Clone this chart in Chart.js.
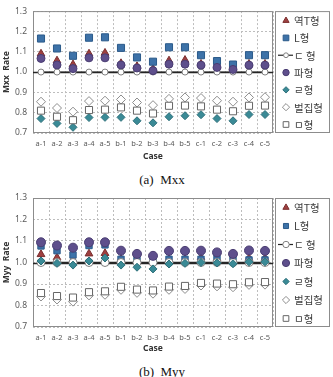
<!DOCTYPE html>
<html><head><meta charset="utf-8">
<script src="https://cdn.jsdelivr.net/npm/chart.js@4"></script>
<style>
html,body{margin:0;padding:0;background:#fff;width:333px;height:377px;overflow:hidden}
#wa{position:absolute;left:0;top:0;width:333px;height:165px}
#wb{position:absolute;left:0;top:185px;width:333px;height:172px}
.cap{position:absolute;left:0;width:324px;text-align:center;font-family:'Liberation Serif',serif;font-size:13px;line-height:15px;color:#111;white-space:pre}
</style></head><body>
<div id="wa"><canvas id="ca" width="333" height="165"></canvas></div>
<div class="cap" style="top:172px">(a)  Mxx</div>
<div id="wb"><canvas id="cb" width="333" height="172"></canvas></div>
<div class="cap" style="top:364px">(b)  Myy</div>
<script>
const cases = ['a-1','a-2','a-3','a-4','a-5','b-1','b-2','b-3','b-4','b-5','c-1','c-2','c-3','c-4','c-5'];
const seriesNames = ['역T형','L형','ㄷ 형','파형','ㄹ형','벌집형','ㅁ형'];
const yTicks = [0.7,0.8,0.9,1.0,1.1,1.2,1.3];
const refValue = 1.0;

// (a) Mxx
const mxxYeokT = [1.090,1.056,1.037,1.090,1.094,1.043,1.028,1.015,1.056,1.059,1.040,1.030,1.020,1.040,1.040];
const mxxL     = [1.165,1.116,1.080,1.169,1.171,1.119,1.072,1.051,1.122,1.122,1.083,1.054,1.037,1.083,1.083];
const mxxD     = [1.0,1.0,1.0,1.0,1.0,1.0,1.0,1.0,1.0,1.0,1.0,1.0,1.0,1.0,1.0];
const mxxPa    = [1.067,1.035,1.017,1.070,1.070,1.035,1.020,1.007,1.039,1.039,1.034,1.023,1.013,1.034,1.034];
const mxxR     = [0.771,0.747,0.728,0.776,0.777,0.777,0.760,0.750,0.780,0.785,0.790,0.771,0.760,0.791,0.791];
const mxxBeol  = [0.854,0.823,0.805,0.857,0.859,0.865,0.850,0.837,0.868,0.875,0.872,0.859,0.854,0.875,0.876];
const mxxM     = [0.810,0.780,0.763,0.813,0.815,0.826,0.810,0.796,0.834,0.835,0.831,0.815,0.807,0.834,0.835];

// (b) Myy
const myyYeokT = [1.038,1.023,1.012,1.041,1.043,1.017,1.005,1.002,1.016,1.016,1.022,1.018,1.012,1.020,1.020];
const myyL     = [1.077,1.055,1.035,1.079,1.082,1.015,1.010,1.006,1.015,1.015,1.015,1.028,1.022,1.012,1.012];
const myyD     = [1.0,1.0,1.0,1.0,1.0,1.0,1.0,1.0,1.0,1.0,1.0,1.0,1.0,1.0,1.0];
const myyPa    = [1.094,1.079,1.069,1.094,1.094,1.055,1.040,1.031,1.054,1.054,1.055,1.047,1.040,1.056,1.054];
const myyR     = [1.007,0.996,0.988,1.007,1.021,0.988,0.978,0.970,0.993,0.996,1.000,0.998,0.994,1.003,1.003];
const myyBeol  = [0.842,0.828,0.818,0.847,0.850,0.873,0.859,0.855,0.873,0.877,0.893,0.889,0.885,0.896,0.897];
const myyM     = [0.858,0.844,0.837,0.862,0.866,0.887,0.874,0.870,0.888,0.891,0.905,0.902,0.899,0.908,0.909];

const styles = [
  {pointStyle:'triangle', bg:'#9E3F3F', bc:'#7A2E2E'},
  {pointStyle:'rect',     bg:'#3D72A8', bc:'#2B5A8A'},
  {pointStyle:'circle',   bg:'#ffffff', bc:'#808080', line:true},
  {pointStyle:'circle',   bg:'#5E4F8C', bc:'#4A3D72'},
  {pointStyle:'rectRot',  bg:'#3A8A96', bc:'#2E707A'},
  {pointStyle:'rectRot',  bg:'#ffffff', bc:'#8c8c8c'},
  {pointStyle:'rect',     bg:'#ffffff', bc:'#666666'}
];

const framePlugin = {
  id:'frame',
  beforeDatasetsDraw(chart){
    const {ctx, chartArea:a, scales:{y}} = chart;
    ctx.save();
    ctx.strokeStyle = '#8c8c8c'; ctx.lineWidth = 1; ctx.setLineDash([]);
    ctx.strokeRect(a.left+0.5, a.top+0.5, a.width-1, a.height-1);
    const py = Math.round(y.getPixelForValue(refValue)) + 0.5;
    ctx.strokeStyle = '#262626'; ctx.lineWidth = 1.3;
    ctx.beginPath(); ctx.moveTo(a.left, py); ctx.lineTo(a.right, py); ctx.stroke();
    ctx.restore();
  }
};

const legendPlugin = {
  id:'boxLegend',
  afterDraw(chart){
    const {ctx, chartArea:a} = chart;
    const x0 = a.right + 2, x1 = chart.width - 4;
    ctx.save();
    ctx.setLineDash([]);
    ctx.strokeStyle = '#8c8c8c'; ctx.lineWidth = 1;
    ctx.strokeRect(x0+0.5, a.top+0.5, x1-x0, a.height-1);
    const step = (a.height - 18) / 6;
    chart.data.datasets.forEach((ds, i) => {
      const y = a.top + 9.5 + i*step;
      const mx = x0 + 11;
      if (ds.showLine) {
        ctx.strokeStyle = '#262626'; ctx.lineWidth = 1.2;
        ctx.beginPath(); ctx.moveTo(x0+3, y); ctx.lineTo(x0+18, y); ctx.stroke();
      }
      ctx.fillStyle = ds.pointBackgroundColor;
      ctx.strokeStyle = ds.pointBorderColor;
      ctx.lineWidth = 1;
      Chart.helpers.drawPoint(ctx, {pointStyle: ds.pointStyle, radius: ds.pointRadius*0.8, borderWidth:1, rotation:0}, mx, y);
      ctx.fillStyle = '#404040';
      ctx.font = '10.5px "Noto Sans CJK KR"';
      ctx.textBaseline = 'middle'; ctx.textAlign = 'left';
      ctx.fillText(ds.label, x0 + 19, y + 0.5);
    });
    ctx.restore();
  }
};

function makeChart(id, yTitle, values, cfg, radii){
  const datasets = seriesNames.map((name, i) => ({
    label: name,
    data: values[i],
    showLine: !!styles[i].line,
    borderColor: styles[i].line ? '#262626' : styles[i].bc,
    borderWidth: 1.3,
    pointStyle: styles[i].pointStyle,
    pointRadius: radii[i],
    pointHoverRadius: radii[i],
    pointBackgroundColor: styles[i].bg,
    pointBorderColor: styles[i].bc,
    pointBorderWidth: 1,
    backgroundColor: styles[i].bg,
    order: 10 - i,
    clip: false
  }));
  return new Chart(document.getElementById(id), {
    type: 'line',
    data: {labels: cases, datasets},
    options: {
      responsive: false, animation: false, devicePixelRatio: 1,
      layout: {padding: {top: cfg.top, right: 60, left: 0, bottom: 0}},
      plugins: {legend: {display: false}, tooltip: {enabled: false}},
      scales: {
        x: {
          type: 'category', offset: true,
          grid: {offset: true, color: '#bdbdbd', drawTicks: false, lineWidth: 1},
          border: {display: false, dash: [2,2]},
          ticks: {color: '#595959', font: {family: 'Noto Sans', size: 7.5}, padding: 6, maxRotation: 0, autoSkip: false},
          title: {display: true, text: 'Case', color: '#333', font: {family: 'Noto Sans', size: 8.5, weight: 'bold'}, padding: {top: 0, bottom: 3}},
          afterFit: s => { s.height = cfg.xh; }
        },
        y: {
          min: 0.7, max: 1.3,
          afterBuildTicks: s => { s.ticks = yTicks.map(v => ({value: v})); },
          grid: {color: '#bdbdbd', drawTicks: false, lineWidth: 1},
          border: {display: false, dash: [2,2]},
          ticks: {color: '#595959', font: {family: 'Noto Sans', size: 8.5}, padding: 6, callback: v => Number(v).toFixed(1)},
          title: {display: true, text: yTitle, color: '#333', font: {family: 'Noto Sans', size: 8.5, weight: 'bold'}, padding: {top: 1, bottom: 0}},
          afterFit: s => { s.width = 33; }
        }
      }
    },
    plugins: [framePlugin, legendPlugin]
  });
}

makeChart('ca', 'Mxx  Rate', [mxxYeokT, mxxL, mxxD, mxxPa, mxxR, mxxBeol, mxxM], {top: 6, xh: 32}, [4.5, 5, 3, 4, 4, 4.5, 5]);
makeChart('cb', 'Myy  Rate', [myyYeokT, myyL, myyD, myyPa, myyR, myyBeol, myyM], {top: 13, xh: 30}, [4.5, 4.5, 4, 4.5, 4, 4.5, 5]);
</script>
</body></html>
